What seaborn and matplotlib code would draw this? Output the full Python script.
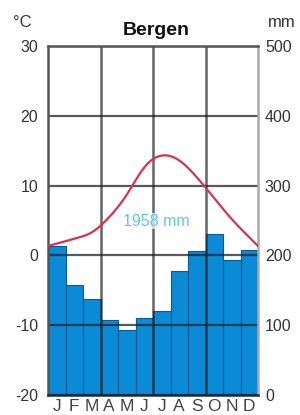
import numpy as np
import pandas as pd
import matplotlib
matplotlib.use("Agg")
import matplotlib.pyplot as plt
import seaborn as sns

# climate data for Bergen
months = ["Jan", "Feb", "Mar", "Apr", "May", "Jun", "Jul", "Aug", "Sep", "Oct", "Nov", "Dec"]
month_letters = ["J", "F", "M", "A", "M", "J", "J", "A", "S", "O", "N", "D"]
temp_c = [1.7, 2.4, 3.3, 5.5, 8.7, 12.6, 14.3, 13.6, 11.2, 8.2, 5.2, 2.6]
precip_mm = [214, 157, 137, 107, 93, 111, 120, 178, 207, 231, 194, 208]
total_label = "1958 mm"
temp_ticks = [-20, -10, 0, 10, 20, 30]
precip_ticks = [0, 100, 200, 300, 400, 500]

df = pd.DataFrame({"month": months, "precip": precip_mm, "temp": temp_c})


def smooth_curve(x, y, xs):
    # natural cubic spline through the monthly points (drawing only)
    x = np.asarray(x, float)
    y = np.asarray(y, float)
    n = len(x)
    h = np.diff(x)
    A = np.zeros((n, n))
    b = np.zeros(n)
    A[0, 0] = A[-1, -1] = 1
    for i in range(1, n - 1):
        A[i, i - 1] = h[i - 1]
        A[i, i] = 2 * (h[i - 1] + h[i])
        A[i, i + 1] = h[i]
        b[i] = 3 * ((y[i + 1] - y[i]) / h[i] - (y[i] - y[i - 1]) / h[i - 1])
    c = np.linalg.solve(A, b)
    bc = (y[1:] - y[:-1]) / h - h * (2 * c[:-1] + c[1:]) / 3
    d = (c[1:] - c[:-1]) / (3 * h)
    seg = np.clip(np.searchsorted(x, xs) - 1, 0, n - 2)
    dx = xs - x[seg]
    return y[seg] + bc[seg] * dx + c[seg] * dx ** 2 + d[seg] * dx ** 3


sns.set_style("white")
plt.rcParams["font.family"] = ["Liberation Sans", "DejaVu Sans"]
plt.rcParams["axes.unicode_minus"] = False

fig = plt.figure(figsize=(3, 4.15), dpi=100)
ax_t = fig.add_axes([0.16, 0.0482, 0.70, 0.841])
ax_p = ax_t.twinx()

sns.barplot(data=df, x="month", y="precip", order=months, ax=ax_p, width=1.0,
            color="#0b8ad6", saturation=1, edgecolor="#0a5a96", linewidth=0.8)
ax_p.set_ylim(0, 500)
ax_p.set_yticks(precip_ticks)
ax_p.set_ylabel("")
ax_p.tick_params(axis="y", length=0, pad=5, labelsize=11.5, labelcolor="#333333")

# temperature axis drawn on top of the bars
ax_t.set_zorder(ax_p.get_zorder() + 1)
ax_t.patch.set_visible(False)
xs = np.linspace(-0.5, 11.5, 300)
ax_t.plot(xs, smooth_curve(np.arange(12), temp_c, xs), color="#d6334f", lw=1.6, zorder=5)
ax_t.text(5.67, 4.9, total_label, color="#5cc8e8", fontsize=11.5, ha="center", va="center",
          zorder=6, bbox=dict(facecolor="white", edgecolor="none", alpha=0.7, pad=0.5))

ax_t.set_ylim(-20, 30)
ax_t.set_yticks(temp_ticks)
ax_t.set_xlim(-0.5, 11.5)
ax_t.set_xticks(range(12), month_letters)
ax_t.set_xticks([2.5, 5.5, 8.5], minor=True)
ax_t.tick_params(axis="y", length=0, pad=7, labelsize=11.5, labelcolor="#333333")
ax_t.tick_params(axis="x", which="both", length=0, pad=3, labelsize=12.5, labelcolor="#444444")
ax_t.set_xlabel("")
ax_t.grid(axis="y", which="major", color="#222222", alpha=0.75, lw=1.6)
ax_t.grid(axis="x", which="minor", color="#222222", alpha=0.7, lw=1.8)
ax_t.grid(axis="x", which="major", visible=False)

for name, sp in ax_t.spines.items():
    sp.set_visible(True)
    sp.set_linewidth(1.8)
    sp.set_color("#555555")
ax_t.spines["right"].set_color("#aaaaaa")
ax_t.spines["bottom"].set_color("#1a2a3a")
for sp in ax_p.spines.values():
    sp.set_visible(False)

fig.text(156 / 300, 1 - 35 / 415, "Bergen", ha="center", va="baseline",
         fontsize=14, fontweight="bold", color="#111111")
fig.text(13 / 300, 1 - 27 / 415, "°C", ha="left", va="baseline", fontsize=12, color="#333333")
fig.text(296 / 300, 1 - 27 / 415, "mm", ha="right", va="baseline", fontsize=12, color="#333333")

fig.savefig("out.png", dpi=100)
